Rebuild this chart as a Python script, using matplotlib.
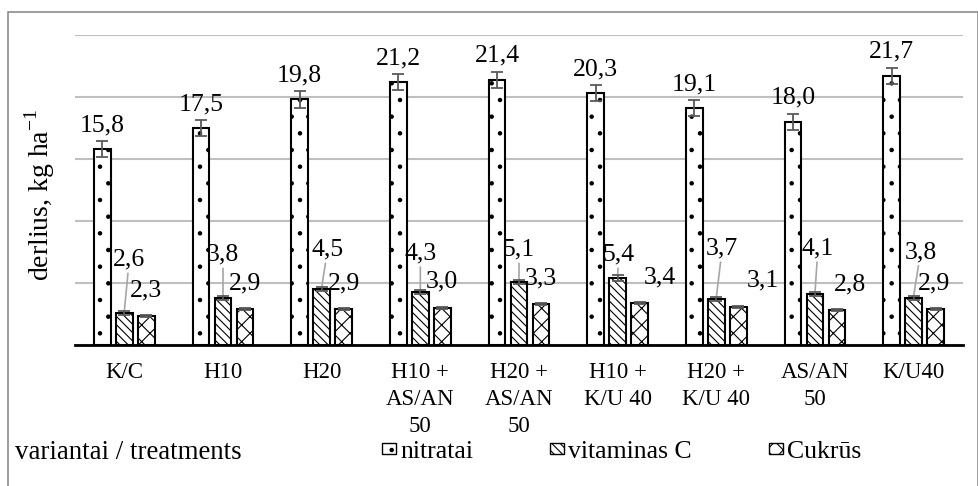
import matplotlib
matplotlib.use("Agg")
import matplotlib.pyplot as plt
from matplotlib.patches import Rectangle
import numpy as np

plt.rcParams['font.family'] = 'Liberation Serif'
plt.rcParams['mathtext.fontset'] = 'custom'
plt.rcParams['mathtext.rm'] = 'Liberation Serif'
plt.rcParams['hatch.linewidth'] = 0.8

# data
treatments = ["K/C", "H10", "H20", "H10 +\nAS/AN\n50", "H20 +\nAS/AN\n50",
              "H10 +\nK/U 40", "H20 +\nK/U 40", "AS/AN\n50", "K/U40"]
nitratai = [15.8, 17.5, 19.8, 21.2, 21.4, 20.3, 19.1, 18.0, 21.7]
vitaminas = [2.6, 3.8, 4.5, 4.3, 5.1, 5.4, 3.7, 4.1, 3.8]
cukrus = [2.3, 2.9, 2.9, 3.0, 3.3, 3.4, 3.1, 2.8, 2.9]
nitratai_err = [0.65, 0.65, 0.65, 0.65, 0.65, 0.65, 0.65, 0.65, 0.65]
vitaminas_err = [0.15, 0.15, 0.15, 0.15, 0.15, 0.25, 0.15, 0.15, 0.15]
cukrus_err = [0.08, 0.08, 0.08, 0.08, 0.08, 0.08, 0.08, 0.08, 0.08]

# label placement tweaks (fractions of a group width / data units)
vit_lab_dx = [0.05, 0.0, 0.06, 0.0, 0.0, 0.01, 0.06, 0.03, 0.07]
vit_lab_y = [6.9, 7.3, 7.7, 7.4, 7.7, 7.3, 7.8, 7.8, 7.5]
cuk_lab_dx = [0.0, 0.0, 0.0, 0.0, 0.0, 0.2, 0.25, 0.13, -0.02]

fig = plt.figure(figsize=(9.79, 4.86), dpi=100)
ax = fig.add_axes([75/979, 1-345/486, 888/979, 310/486])

x = np.arange(len(treatments))
w = 0.172
off = 0.223
errkw = dict(ecolor='#595959', capsize=4, elinewidth=1.3, capthick=1.3)

b1 = ax.bar(x - off, nitratai, w, color='white', edgecolor='black', linewidth=1.5,
            hatch='.', yerr=nitratai_err, error_kw=errkw, label='nitratai', zorder=3)
b2 = ax.bar(x, vitaminas, w, color='white', edgecolor='black', linewidth=1.5,
            hatch='\\\\\\\\', yerr=vitaminas_err, error_kw=errkw, label='vitaminas C', zorder=3)
b3 = ax.bar(x + off, cukrus, w, color='white', edgecolor='black', linewidth=1.5,
            hatch='xx', yerr=cukrus_err, error_kw=errkw, label='Cukrūs', zorder=3)

for i in range(len(x)):
    ax.text(x[i] - off, nitratai[i] + nitratai_err[i] + 0.4, f"{nitratai[i]:.1f}".replace('.', ','),
            ha='center', va='bottom', fontsize=18.5)
    ax.annotate(f"{vitaminas[i]:.1f}".replace('.', ','),
                xy=(x[i], vitaminas[i] + vitaminas_err[i]),
                xytext=(x[i] + vit_lab_dx[i], vit_lab_y[i]),
                ha='center', va='center', fontsize=18.5,
                arrowprops=dict(arrowstyle='-', color='#a6a6a6', lw=1.2, shrinkA=0, shrinkB=0))
    ax.text(x[i] + off + cuk_lab_dx[i], cukrus[i] + 1.2, f"{cukrus[i]:.1f}".replace('.', ','),
            ha='center', va='bottom', fontsize=18.5)

ax.set_xlim(-0.5, len(x) - 0.5)
ax.set_ylim(0, 25)
ax.set_yticks([0, 5, 10, 15, 20, 25])
ax.yaxis.grid(True, color='#bfbfbf', linewidth=1.5, zorder=0)
ax.set_axisbelow(True)
ax.tick_params(axis='y', left=False, labelleft=False)
ax.tick_params(axis='x', length=0, pad=12)
ax.set_xticks(x)
ax.set_xticklabels(treatments, fontsize=16.5, linespacing=1.4)
for s in ['top', 'right', 'left']:
    ax.spines[s].set_visible(False)
ax.spines['bottom'].set_linewidth(2)
ax.spines['bottom'].set_zorder(4)

fig.text(40/979, 1-195/486, "derlius, kg ha$^{-1}$", rotation=90, fontsize=20,
         ha='center', va='center')
fig.text(15/979, 1-452/486, "variantai / treatments", fontsize=19.4, ha='left', va='center')

leg = fig.legend(handles=[b1, b2, b3], loc='center left', bbox_to_anchor=(382/979, 1-452/486),
                 ncol=3, frameon=False, fontsize=18.5, handlelength=0.55, handleheight=0.3,
                 handletextpad=0.15, columnspacing=3.0, borderaxespad=0, borderpad=0)
for p in leg.get_patches():
    p.set_linewidth(1.0)

fig.patches.append(Rectangle((8/979, -0.05), 970/979, 1.05 - 12/486, transform=fig.transFigure,
                             fill=False, edgecolor='#8c8c8c', linewidth=1.2))

plt.savefig("out.png", dpi=100)
